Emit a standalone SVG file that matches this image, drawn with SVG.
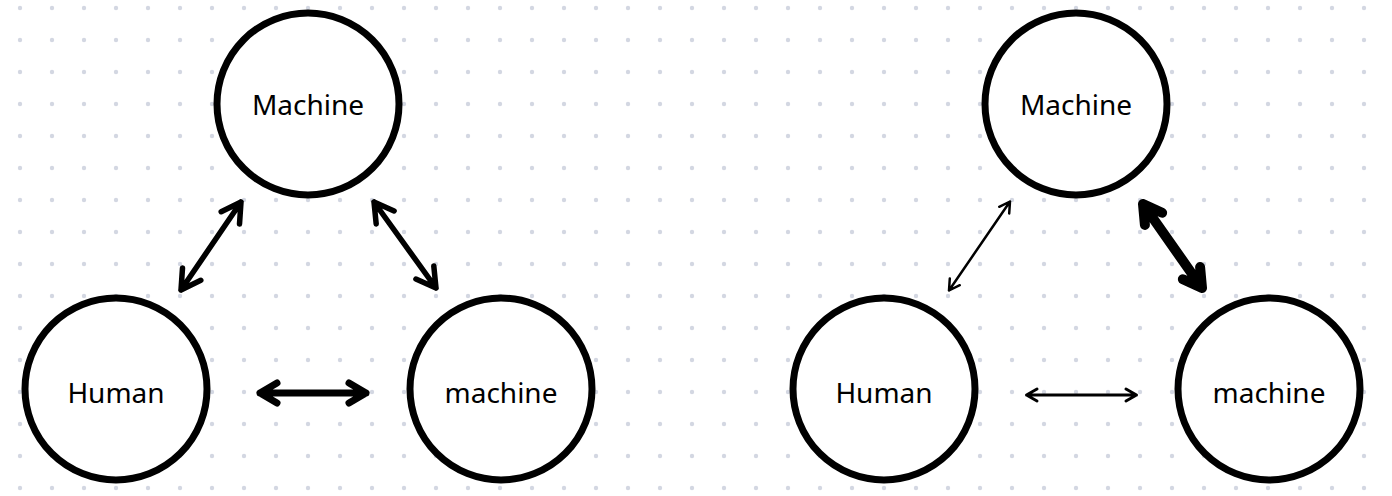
<svg xmlns="http://www.w3.org/2000/svg" width="1392" height="496" viewBox="0 0 1392 496">
  <style>
    .node circle { fill: #ffffff; stroke: #000000; stroke-width: 7; }
    .node text { font-family: "Noto Sans", "Open Sans", sans-serif; font-size: 28px; fill: #000000; text-anchor: middle; }
    .arrow { fill: none; stroke: #000000; stroke-linecap: round; stroke-linejoin: round; }
    .w25 { stroke-width: 2.5; }
    .w3 { stroke-width: 3; }
    .w5 { stroke-width: 5.5; }
    .w7 { stroke-width: 7; }
    .w10 { stroke-width: 10; }
  </style>
  <defs>
    <pattern id="dots" patternUnits="userSpaceOnUse" x="0" y="0" width="32" height="32">
      <circle cx="20" cy="8" r="2.2" fill="#d3d7e2"/>
    </pattern>
  </defs>
  <rect x="0" y="0" width="1392" height="496" fill="#ffffff"/>
  <rect x="0" y="0" width="1392" height="496" fill="url(#dots)"/>

  <g id="connectors">
    <path class="arrow w5" d="M181,290 L241,202 M221.2,211.7 L241,202 L239.5,224 M200.8,280.3 L181,290 L182.5,268"/>
    <path class="arrow w5" d="M374,202 L436,288 M376.2,223.9 L374,202 L394.1,211 M433.8,266.1 L436,288 L415.9,279"/>
    <path class="arrow w7" d="M260,393 H366 M277,383 L260,393 L277,403 M349,383 L366,393 L349,403"/>
    <path class="arrow w25" d="M949,290.5 L1010,201.5 M999.2,206.8 L1010,201.5 L1009.2,213.5 M959.8,285.2 L949,290.5 L949.8,278.5"/>
    <path class="arrow w10" d="M1143,204 L1202,288 M1144.9,224.9 L1143,204 L1162.1,212.8 M1200.1,267.1 L1202,288 L1182.9,279.2"/>
    <path class="arrow w3" d="M1026.5,395 H1136.5 M1037,389 L1026.5,395 L1037,401 M1126,389 L1136.5,395 L1126,401"/>
  </g>

  <g id="machine-top-left" class="node">
    <circle cx="308" cy="104" r="91"/>
    <text x="308" y="115">Machine</text>
  </g>
  <g id="human-left" class="node">
    <circle cx="116" cy="389" r="91"/>
    <text x="116" y="403">Human</text>
  </g>
  <g id="machine-bottom-left" class="node">
    <circle cx="501" cy="389" r="91"/>
    <text x="501" y="403">machine</text>
  </g>

  <g id="machine-top-right" class="node">
    <circle cx="1076" cy="104" r="91"/>
    <text x="1076" y="115">Machine</text>
  </g>
  <g id="human-right" class="node">
    <circle cx="884" cy="389" r="91"/>
    <text x="884" y="403">Human</text>
  </g>
  <g id="machine-bottom-right" class="node">
    <circle cx="1269" cy="389" r="91"/>
    <text x="1269" y="403">machine</text>
  </g>
</svg>
